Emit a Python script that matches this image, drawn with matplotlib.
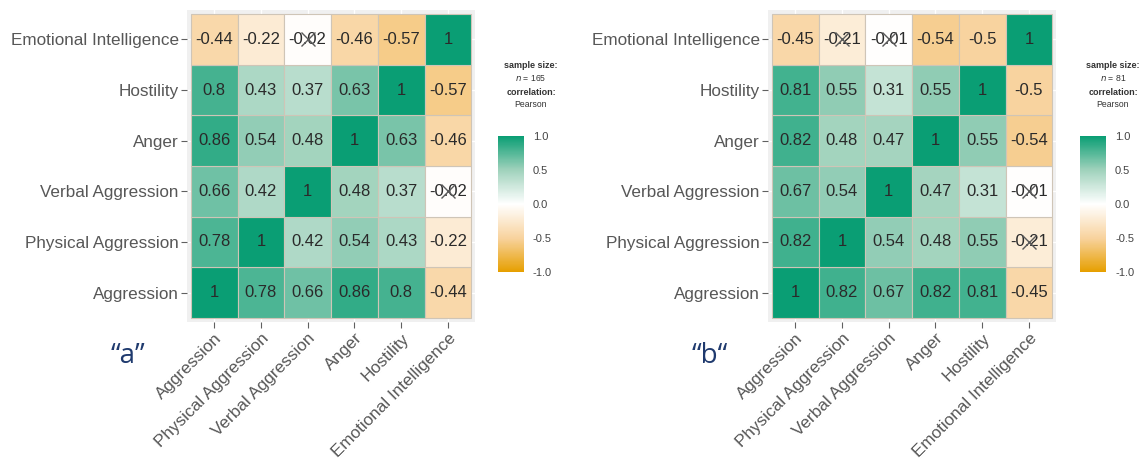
import matplotlib.pyplot as plt
import numpy as np
from matplotlib.colors import LinearSegmentedColormap, Normalize
from matplotlib.cm import ScalarMappable

plt.rcParams['font.family'] = ['Liberation Sans', 'DejaVu Sans']

variables = ["Aggression", "Physical Aggression", "Verbal Aggression",
             "Anger", "Hostility", "Emotional Intelligence"]

# correlation matrices, same variable order in rows and columns
corr_a = [[1, 0.78, 0.66, 0.86, 0.8, -0.44],
          [0.78, 1, 0.42, 0.54, 0.43, -0.22],
          [0.66, 0.42, 1, 0.48, 0.37, -0.02],
          [0.86, 0.54, 0.48, 1, 0.63, -0.46],
          [0.8, 0.43, 0.37, 0.63, 1, -0.57],
          [-0.44, -0.22, -0.02, -0.46, -0.57, 1]]
corr_b = [[1, 0.82, 0.67, 0.82, 0.81, -0.45],
          [0.82, 1, 0.54, 0.48, 0.55, -0.21],
          [0.67, 0.54, 1, 0.47, 0.31, -0.01],
          [0.82, 0.48, 0.47, 1, 0.55, -0.54],
          [0.81, 0.55, 0.31, 0.55, 1, -0.5],
          [-0.45, -0.21, -0.01, -0.54, -0.5, 1]]

# non-significant pairs (row, col), crossed out
nonsig_a = [(5, 2), (2, 5)]
nonsig_b = [(5, 1), (1, 5), (5, 2), (2, 5)]

n_a = 165
n_b = 81

cmap = LinearSegmentedColormap.from_list(
    "corr", [(0.0, "#E69F00"), (0.25, "#F8D39F"), (0.5, "#FFFFFF"),
             (0.75, "#A0D2BC"), (1.0, "#0A9E74")])
norm = Normalize(-1, 1)

label_col = "#575757"


def fmt(v):
    if v == 1:
        return "1"
    s = ("%.2f" % v).rstrip("0")
    return s


def heatmap(fig, rect, corr, nonsig, n, cbar_rect, legend_xy, tag, tag_xy):
    ax = fig.add_axes(rect)
    corr = np.array(corr)
    k = len(variables)
    ax.set_facecolor("#F0F0F0")
    for i in range(k):
        for j in range(k):
            v = corr[i, j]
            ax.add_patch(plt.Rectangle((j - 0.5, i - 0.5), 1, 1,
                                       facecolor=cmap(norm(v)),
                                       edgecolor="#CFC5B7", lw=0.8, zorder=2))
            ax.text(j, i, fmt(v), ha="center", va="center",
                    fontsize=12, color="#2A2A2A", zorder=3)
    for i, j in nonsig:
        ax.plot(j, i, marker="x", ms=10, mew=1.0, color="#5A5A5A", zorder=4)
    ax.set_xlim(-0.58, k - 0.42)
    ax.set_ylim(-0.58, k - 0.42)
    ax.set_xticks(range(k))
    ax.set_yticks(range(k))
    ax.grid(color="white", lw=1, zorder=0)
    ax.set_axisbelow(True)
    ax.set_xticklabels(variables, rotation=45, ha="right",
                       rotation_mode="anchor", fontsize=12.3, color=label_col)
    ax.set_yticklabels(variables, fontsize=12.3, color=label_col)
    ax.tick_params(length=4, color="#606060", width=0.8, pad=2)
    for sp in ax.spines.values():
        sp.set_visible(False)

    cax = fig.add_axes(cbar_rect)
    cb = fig.colorbar(ScalarMappable(norm=norm, cmap=cmap), cax=cax,
                      ticks=[-1, -0.5, 0, 0.5, 1])
    cb.ax.set_yticklabels(["-1.0", "-0.5", "0.0", "0.5", "1.0"])
    cb.ax.tick_params(labelsize=8, length=3, color="white", labelcolor="#444444")
    cb.outline.set_visible(False)

    lx, ly = legend_xy
    fig.text(lx, ly, "sample size:", fontsize=6.5, weight="bold",
             color="#333333", ha="center")
    fig.text(lx, ly - 0.028, "$n$ = %d" % n, fontsize=6.2,
             color="#333333", ha="center")
    fig.text(lx, ly - 0.056, "correlation:", fontsize=6.5, weight="bold",
             color="#333333", ha="center")
    fig.text(lx, ly - 0.082, "Pearson", fontsize=6.2,
             color="#333333", ha="center")

    fig.text(tag_xy[0], tag_xy[1], tag, fontsize=20, color="#1F3A6E",
             family=["Open Sans", "DejaVu Sans"], ha="center", va="center")


fig = plt.figure(figsize=(11.48, 4.71), dpi=100)
heatmap(fig, [0.1629, 0.3163, 0.2509, 0.6624], corr_a, nonsig_a, n_a,
        [0.4338, 0.4225, 0.0226, 0.2887], (0.4625, 0.855), "“a”", (0.1115, 0.245))
heatmap(fig, [0.6690, 0.3163, 0.2509, 0.6624], corr_b, nonsig_b, n_b,
        [0.9408, 0.4225, 0.0226, 0.2887], (0.9695, 0.855), "“b“", (0.618, 0.245))
fig.savefig("out.png", dpi=100)
